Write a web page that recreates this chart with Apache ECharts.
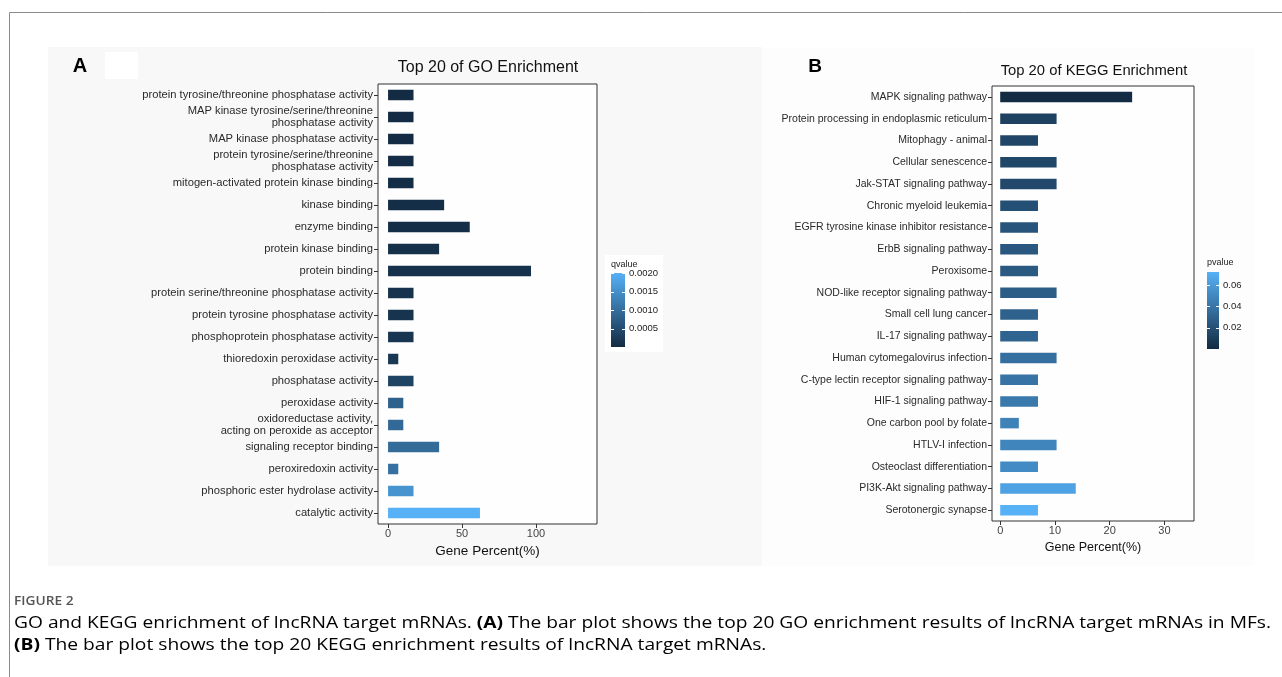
<!DOCTYPE html>
<html>
<head>
<meta charset="utf-8">
<title>GO and KEGG enrichment</title>
<script src="https://cdn.jsdelivr.net/npm/echarts@6/dist/echarts.min.js"></script>
<style>
  html, body { margin: 0; padding: 0; background: #fff; }
  #chart { width: 1282px; height: 677px; }
</style>
</head>
<body>
<div id="chart"></div>
<script>
// ---- GO enrichment (panel A) ----
const goTerms = [
  'protein tyrosine/threonine phosphatase activity',
  'MAP kinase tyrosine/serine/threonine\nphosphatase activity',
  'MAP kinase phosphatase activity',
  'protein tyrosine/serine/threonine\nphosphatase activity',
  'mitogen-activated protein kinase binding',
  'kinase binding',
  'enzyme binding',
  'protein kinase binding',
  'protein binding',
  'protein serine/threonine phosphatase activity',
  'protein tyrosine phosphatase activity',
  'phosphoprotein phosphatase activity',
  'thioredoxin peroxidase activity',
  'phosphatase activity',
  'peroxidase activity',
  'oxidoreductase activity,\nacting on peroxide as acceptor',
  'signaling receptor binding',
  'peroxiredoxin activity',
  'phosphoric ester hydrolase activity',
  'catalytic activity'
];
const goPercent = [17.2, 17.2, 17.2, 17.2, 17.2, 37.9, 55.2, 34.5, 96.6, 17.2,
                   17.2, 17.2, 6.9, 17.2, 10.3, 10.3, 34.5, 6.9, 17.2, 62.1];
const goQvalue = [0.00001, 0.00002, 0.00002, 0.00003, 0.00004, 0.00005, 0.00006, 0.00008, 0.0001, 0.00012,
                  0.00014, 0.00016, 0.0002, 0.00037, 0.00083, 0.00093, 0.00096, 0.00104, 0.00157, 0.00201];

// ---- KEGG enrichment (panel B) ----
const keggTerms = [
  'MAPK signaling pathway',
  'Protein processing in endoplasmic reticulum',
  'Mitophagy - animal',
  'Cellular senescence',
  'Jak-STAT signaling pathway',
  'Chronic myeloid leukemia',
  'EGFR tyrosine kinase inhibitor resistance',
  'ErbB signaling pathway',
  'Peroxisome',
  'NOD-like receptor signaling pathway',
  'Small cell lung cancer',
  'IL-17 signaling pathway',
  'Human cytomegalovirus infection',
  'C-type lectin receptor signaling pathway',
  'HIF-1 signaling pathway',
  'One carbon pool by folate',
  'HTLV-I infection',
  'Osteoclast differentiation',
  'PI3K-Akt signaling pathway',
  'Serotonergic synapse'
];
const keggPercent = [24.1, 10.3, 6.9, 10.3, 10.3, 6.9, 6.9, 6.9, 6.9, 10.3,
                     6.9, 6.9, 10.3, 6.9, 6.9, 3.4, 10.3, 6.9, 13.8, 6.9];
const keggPvalue = [0.00005, 0.012, 0.014, 0.015, 0.016, 0.020, 0.022, 0.024, 0.025, 0.027,
                    0.029, 0.031, 0.037, 0.039, 0.042, 0.047, 0.049, 0.052, 0.064, 0.0725];

// ---- axis and colour-bar ticks ----
const goPercentTicks = [0, 50, 100];
const keggPercentTicks = [0, 10, 20, 30];
const qvalueTicks = [0.0005, 0.001, 0.0015, 0.002];
const pvalueTicks = [0.02, 0.04, 0.06];

const LOW = '#132B43', HIGH = '#56B1F7';
const SANS = "'Liberation Sans', Arial, Helvetica, sans-serif";
const CAPTION = "'Open Sans', 'Noto Sans', sans-serif";

const qMin = Math.min(...goQvalue), qMax = Math.max(...goQvalue);
const pMin = Math.min(...keggPvalue), pMax = Math.max(...keggPvalue);

const gradient = {
  type: 'linear', x: 0, y: 0, x2: 0, y2: 1,
  colorStops: [{ offset: 0, color: HIGH }, { offset: 1, color: LOW }]
};

function plotGrid(rect) {
  return Object.assign({ show: true, backgroundColor: '#fefefe', borderColor: '#333', borderWidth: 1 }, rect);
}
function barGridX(idx, min, max, ticks, nameGap, nameSize) {
  return {
    gridIndex: idx, type: 'value', min: min, max: max,
    axisLine: { show: false, onZero: false }, splitLine: { show: false },
    axisTick: { show: true, length: 4, customValues: ticks, lineStyle: { color: '#333' } },
    axisLabel: { customValues: ticks, fontFamily: SANS, fontSize: 11, color: '#444', margin: 4 },
    name: 'Gene Percent(%)', nameLocation: 'middle', nameGap: nameGap,
    nameTextStyle: { fontFamily: SANS, fontSize: nameSize, color: '#111' }
  };
}
function barGridY(idx, terms, size) {
  return {
    gridIndex: idx, type: 'category', data: terms, inverse: true,
    axisLine: { show: false, onZero: false }, splitLine: { show: false },
    axisTick: { show: true, alignWithLabel: true, length: 4, lineStyle: { color: '#333' } },
    axisLabel: { interval: 0, fontFamily: SANS, fontSize: size, color: '#2a2a2a', margin: 5, lineHeight: 12.5 }
  };
}
function barSeries(idx, terms, percent, sig) {
  return {
    type: 'bar', xAxisIndex: idx, yAxisIndex: idx, barWidth: 10.5,
    encode: { x: 0, y: 1 },
    data: terms.map((t, i) => [percent[i], t, sig[i]]),
    silent: true
  };
}
function barAxisX(idx) {
  return { gridIndex: idx, type: 'value', min: 0, max: 1, show: false };
}
function barAxisY(idx, min, max, ticks, side, labels, digits, size) {
  return {
    gridIndex: idx, type: 'value', min: min, max: max, position: side,
    axisLine: { show: false, onZero: false }, splitLine: { show: false },
    axisTick: { show: true, inside: true, length: 3, customValues: ticks, lineStyle: { color: '#fff', width: 1 } },
    axisLabel: labels
      ? { customValues: ticks, formatter: v => v.toFixed(digits), fontFamily: SANS, fontSize: size, color: '#222', margin: 4 }
      : { show: false }
  };
}

const captionRich = {
  n: { fontFamily: CAPTION, fontSize: 16, color: '#505050' },
  b: { fontFamily: CAPTION, fontSize: 16, fontWeight: 'bold', color: '#333' }
};

const option = {
  animation: false,
  backgroundColor: '#fff',
  graphic: { elements: [
    { type: 'rect', z: -20, shape: { x: 9.5, y: 12.5, width: 1300, height: 700 }, style: { fill: '#fff', stroke: '#8a8a8a', lineWidth: 1 } },
    { type: 'rect', z: -19, shape: { x: 48, y: 47, width: 714, height: 519 }, style: { fill: '#f8f8f8' } },
    { type: 'rect', z: -19, shape: { x: 762, y: 48, width: 493, height: 518 }, style: { fill: '#fdfdfd' } },
    { type: 'rect', z: -18, shape: { x: 105, y: 52, width: 33, height: 27 }, style: { fill: '#fff' } },
    { type: 'rect', z: -18, shape: { x: 605, y: 255, width: 58, height: 97 }, style: { fill: '#fff' } },
    { type: 'text', x: 80, y: 66, style: { text: 'A', font: "bold 20px " + SANS, fill: '#000', align: 'center', verticalAlign: 'middle' } },
    { type: 'text', x: 815, y: 67, style: { text: 'B', font: "bold 19px " + SANS, fill: '#000', align: 'center', verticalAlign: 'middle' } },
    { type: 'text', x: 488, y: 68, style: { text: 'Top 20 of GO Enrichment', font: "16px " + SANS, fill: '#111', align: 'center', verticalAlign: 'middle' } },
    { type: 'text', x: 1094, y: 71, style: { text: 'Top 20 of KEGG Enrichment', font: "14.8px " + SANS, fill: '#111', align: 'center', verticalAlign: 'middle' } },
    { type: 'text', x: 611, y: 265, style: { text: 'qvalue', font: "9px " + SANS, fill: '#222', align: 'left', verticalAlign: 'middle' } },
    { type: 'text', x: 1207, y: 263, style: { text: 'pvalue', font: "9px " + SANS, fill: '#222', align: 'left', verticalAlign: 'middle' } },
    { type: 'text', x: 14, y: 601, scaleX: 1.1, style: { text: 'FIGURE 2', font: "600 12.5px " + CAPTION, fill: '#555', align: 'left', verticalAlign: 'middle' } },
    { type: 'text', x: 14, y: 623, scaleX: 1.2, style: {
        text: '{n|GO and KEGG enrichment of lncRNA target mRNAs. }{b|(A)}{n| The bar plot shows the top 20 GO enrichment results of lncRNA target mRNAs in MFs.}',
        align: 'left', verticalAlign: 'middle', rich: captionRich } },
    { type: 'text', x: 14, y: 645, scaleX: 1.2, style: {
        text: '{b|(B)}{n| The bar plot shows the top 20 KEGG enrichment results of lncRNA target mRNAs.}',
        align: 'left', verticalAlign: 'middle', rich: captionRich } }
  ] },
  grid: [
    plotGrid({ left: 378, top: 84, width: 219, height: 440 }),
    plotGrid({ left: 992, top: 86, width: 202, height: 435 }),
    { show: true, left: 611, top: 273, width: 14, height: 74, borderWidth: 0, backgroundColor: gradient },
    { show: true, left: 1207, top: 272, width: 12, height: 77, borderWidth: 0, backgroundColor: gradient }
  ],
  xAxis: [
    barGridX(0, -6.8, 141.2, goPercentTicks, 16, 13.5),
    barGridX(1, -1.5, 35.4, keggPercentTicks, 17, 12.5),
    barAxisX(2),
    barAxisX(3)
  ],
  yAxis: [
    barGridY(0, goTerms, 11.2),
    barGridY(1, keggTerms, 10.5),
    barAxisY(2, qMin, qMax, qvalueTicks, 'right', true, 4, 9.5),
    barAxisY(2, qMin, qMax, qvalueTicks, 'left', false),
    barAxisY(3, pMin, pMax, pvalueTicks, 'right', true, 2, 9.5),
    barAxisY(3, pMin, pMax, pvalueTicks, 'left', false)
  ],
  visualMap: [
    { type: 'continuous', show: false, seriesIndex: 0, dimension: 2, min: qMin, max: qMax, inRange: { color: [LOW, HIGH] } },
    { type: 'continuous', show: false, seriesIndex: 1, dimension: 2, min: pMin, max: pMax, inRange: { color: [LOW, HIGH] } }
  ],
  series: [
    barSeries(0, goTerms, goPercent, goQvalue),
    barSeries(1, keggTerms, keggPercent, keggPvalue)
  ]
};

const chart = echarts.init(document.getElementById('chart'), null, { renderer: 'canvas' });
chart.setOption(option);
</script>
</body>
</html>
